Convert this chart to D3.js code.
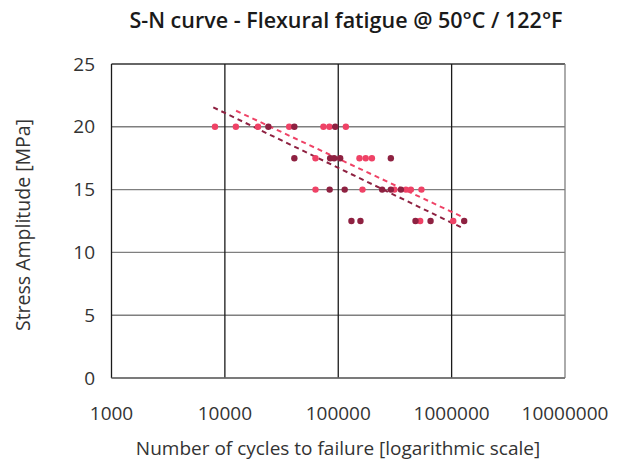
<!DOCTYPE html>
<html><head><meta charset="utf-8">
<script src="https://cdn.jsdelivr.net/npm/d3@7"></script>
<style>body{margin:0;background:#fff}svg{display:block}</style>
</head><body>
<svg id="c" width="630" height="461"></svg>
<script>
// --- data ---
const title = "S-N curve - Flexural fatigue @ 50°C / 122°F";
const xLabel = "Number of cycles to failure [logarithmic scale]";
const yLabel = "Stress Amplitude [MPa]";
const xTicks = [1000, 10000, 100000, 1000000, 10000000];
const yTicks = [0, 5, 10, 15, 20, 25];

// series A (light pink)
const cyclesA = [8180, 12500, 19600, 36900, 74000, 83500, 116700,
  63000, 153900, 174600, 198000,
  63000, 163600, 313000, 395000, 437000, 542000,
  528000, 1033000];
const stressA = [20, 20, 20, 20, 20, 20, 20,
  17.5, 17.5, 17.5, 17.5,
  15, 15, 15, 15, 15, 15,
  12.5, 12.5];
// series B (dark red)
const cyclesB = [24200, 41000, 94000,
  41000, 84900, 92000, 104000, 291000,
  84000, 114000, 244000, 291000, 357000,
  130700, 157000, 480000, 652000, 1291000];
const stressB = [20, 20, 20,
  17.5, 17.5, 17.5, 17.5, 17.5,
  15, 15, 15, 15, 15,
  12.5, 12.5, 12.5, 12.5, 12.5];
// trend lines (endpoints: cycles, stress)
const trendA = [[12560, 21.28], [1270000, 12.79]];
const trendB = [[7900, 21.55], [1250000, 11.94]];

const colA = "#ef4266", colB = "#8e2141";

const svg = d3.select("#c");
const L = 111.5, R = 565, T = 64, B = 378;
const x = d3.scaleLog().domain([1000, 1e7]).range([L, R]);
const y = d3.scaleLinear().domain([0, 25]).range([B, T]);
const font = "'Open Sans', 'Noto Sans', sans-serif";

// horizontal grid
svg.append("g").selectAll("line").data(yTicks).join("line")
  .attr("x1", L).attr("x2", R).attr("y1", d => y(d)).attr("y2", d => y(d))
  .attr("stroke", d => d === 25 ? "#333" : "#7f7f7f").attr("stroke-width", 1.4);
// vertical grid
svg.append("g").selectAll("line").data(xTicks).join("line")
  .attr("x1", d => x(d)).attr("x2", d => x(d)).attr("y1", T).attr("y2", B)
  .attr("stroke", d => d === 1e7 ? "#7f7f7f" : "#1a1a1a").attr("stroke-width", 1.3);
// bottom axis line redraw
svg.append("line").attr("x1", L).attr("x2", R).attr("y1", B).attr("y2", B)
  .attr("stroke", "#6f6f6f").attr("stroke-width", 1.4);

// tick labels
svg.append("g").selectAll("text").data(yTicks).join("text")
  .attr("x", 95).attr("y", d => y(d)).attr("dy", "0.35em")
  .attr("text-anchor", "end").attr("font-family", font).attr("font-size", 19)
  .attr("fill", "#333").text(d => d);
svg.append("g").selectAll("text").data(xTicks).join("text")
  .attr("x", d => x(d)).attr("y", 420)
  .attr("text-anchor", "middle").attr("font-family", font).attr("font-size", 19)
  .attr("fill", "#333").text(d => d);

// trend lines
const line = d3.line().x(d => x(d[0])).y(d => y(d[1]));
[[trendB, colB], [trendA, colA]].forEach(([t, c]) => {
  svg.append("path").attr("d", line(t)).attr("fill", "none")
    .attr("stroke", c).attr("stroke-width", 2).attr("stroke-dasharray", "5,4");
});

// points
const ptsA = cyclesA.map((c, i) => [c, stressA[i]]);
const ptsB = cyclesB.map((c, i) => [c, stressB[i]]);
svg.append("g").selectAll("circle").data(ptsA).join("circle")
  .attr("cx", d => x(d[0])).attr("cy", d => y(d[1])).attr("r", 3.2).attr("fill", colA);
svg.append("g").selectAll("circle").data(ptsB).join("circle")
  .attr("cx", d => x(d[0])).attr("cy", d => y(d[1])).attr("r", 3.2).attr("fill", colB);

// titles
svg.append("text").attr("x", 346).attr("y", 28).attr("text-anchor", "middle")
  .attr("font-family", font).attr("font-size", 21.5).attr("font-weight", 600)
  .attr("fill", "#1a1a1a").text(title);
svg.append("text").attr("x", 338).attr("y", 455).attr("text-anchor", "middle")
  .attr("font-family", font).attr("font-size", 19).attr("font-weight", 400)
  .attr("fill", "#333").text(xLabel);
svg.append("text").attr("transform", "translate(30,225) rotate(-90)")
  .attr("text-anchor", "middle").attr("font-family", font).attr("font-size", 19.5)
  .attr("font-weight", 400).attr("fill", "#333").text(yLabel);
</script>
</body></html>
